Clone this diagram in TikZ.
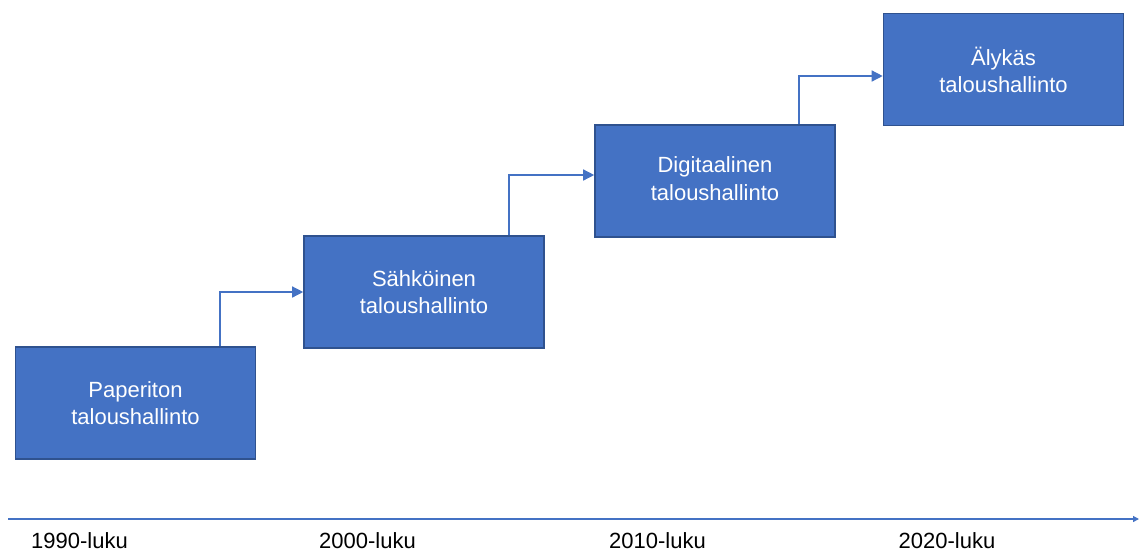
\documentclass[tikz,border=0pt]{standalone}
\usepackage{fontspec}
\setmainfont{Liberation Sans}
\usetikzlibrary{arrows.meta}
\definecolor{boxfill}{HTML}{4472C4}
\definecolor{boxline}{HTML}{2F528F}
\definecolor{connc}{HTML}{4472C4}
\begin{document}
\begin{tikzpicture}[x=1pt,y=-1pt,
  stage/.style={draw=boxline, fill=boxfill, line width=1.6pt, minimum width=240pt,
    minimum height=112pt, text=white, align=center, inner sep=0pt,
    font=\fontsize{22}{27}\selectfont},
  conn/.style={draw=connc, line width=1.4pt, -{Triangle[length=11pt,width=11pt]}},
  axisline/.style={draw=connc, line width=1.3pt, -{Triangle[length=6pt,width=6pt]}},
  era/.style={text=black, font=\fontsize{22}{27}\selectfont, inner sep=0pt}]
\useasboundingbox (0,0) rectangle (1139,550);
\node[stage] (b1) at (135.5,403) {Paperiton\\taloushallinto};
\node[stage] (b2) at (424,292) {Sähköinen\\taloushallinto};
\node[stage] (b3) at (715,181) {\raisebox{5pt}{\shortstack{Digitaalinen\\[4pt]taloushallinto}}};
\node[stage] (b4) at (1003.5,69.5) {Älykäs\\taloushallinto};
\draw[conn] ([xshift=84.5pt]b1.north) |- (b2.west);
\draw[conn] ([xshift=85pt]b2.north) |- ([yshift=6pt]b3.west);
\draw[conn] ([xshift=84pt]b3.north) |- ([yshift=-6.5pt]b4.west);
\coordinate (axs) at (8,519);
\coordinate (axe) at (1139,519);
\draw[axisline] (axs) -- (axe);
\node[era] (l1) at (79.5,541) {1990-luku};
\node[era] (l2) at (367.5,541) {2000-luku};
\node[era] (l3) at (657.5,541) {2010-luku};
\node[era] (l4) at (947,541) {2020-luku};
\end{tikzpicture}
\end{document}
